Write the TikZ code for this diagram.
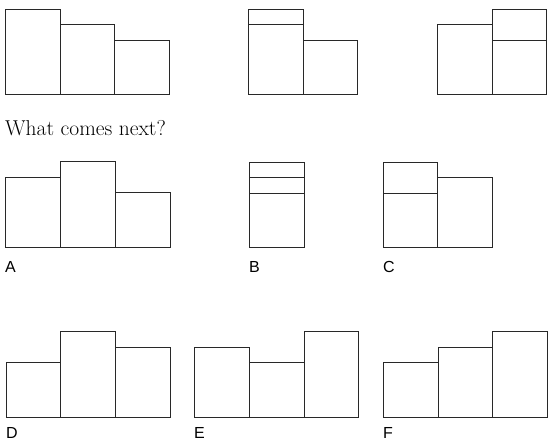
\documentclass[tikz,border=0pt]{standalone}
\usepackage{fontspec}
\usepackage{tikz}
\newfontfamily\labelfont{Liberation Sans}
\definecolor{edgegray}{RGB}{40,40,40}

\begin{document}
\begin{tikzpicture}[x=1pt, y=-1pt,
    blk/.style={draw=edgegray, line width=1pt},
    opt/.style={font=\labelfont\fontsize{16}{18}\selectfont, inner sep=0pt, anchor=base west}]
  \useasboundingbox (0,0) rectangle (557,442);

  % Sequence, first frame
  \draw[blk] (5,94) rectangle (60,9);
  \draw[blk] (60,94) rectangle (114,24);
  \draw[blk] (114,94) rectangle (169,40);

  % Sequence, second frame
  \draw[blk] (248,94) rectangle (303,9);
  \draw[blk] (248,24) -- (303,24);
  \draw[blk] (303,94) rectangle (357,40);

  % Sequence, third frame
  \draw[blk] (437,94) rectangle (492,24);
  \draw[blk] (492,94) rectangle (546,9);
  \draw[blk] (492,40) -- (546,40);

  \node[inner sep=0pt, anchor=base west, font=\fontsize{21.5}{24}\selectfont] (question) at (5,135) {What comes next?};

  % Option A
  \draw[blk] (5,247) rectangle (60,177);
  \draw[blk] (60,247) rectangle (115,161);
  \draw[blk] (115,247) rectangle (170,192);
  \node[opt] (labA) at (5,272) {A};

  % Option B
  \draw[blk] (249,247) rectangle (304,162);
  \draw[blk] (249,177) -- (304,177);
  \draw[blk] (249,193) -- (304,193);
  \node[opt] (labB) at (249,272) {B};

  % Option C
  \draw[blk] (383,247) rectangle (437,162);
  \draw[blk] (383,193) -- (437,193);
  \draw[blk] (437,247) rectangle (492,177);
  \node[opt] (labC) at (383,272) {C};

  % Option D
  \draw[blk] (6,417) rectangle (60,362);
  \draw[blk] (60,417) rectangle (115,331);
  \draw[blk] (115,417) rectangle (170,347);
  \node[opt] (labD) at (6,438) {D};

  % Option E
  \draw[blk] (194,417) rectangle (249,347);
  \draw[blk] (249,417) rectangle (304,362);
  \draw[blk] (304,417) rectangle (358,331);
  \node[opt] (labE) at (194,438) {E};

  % Option F
  \draw[blk] (383,417) rectangle (438,362);
  \draw[blk] (438,417) rectangle (492,347);
  \draw[blk] (492,417) rectangle (547,331);
  \node[opt] (labF) at (383,438) {F};
\end{tikzpicture}
\end{document}
